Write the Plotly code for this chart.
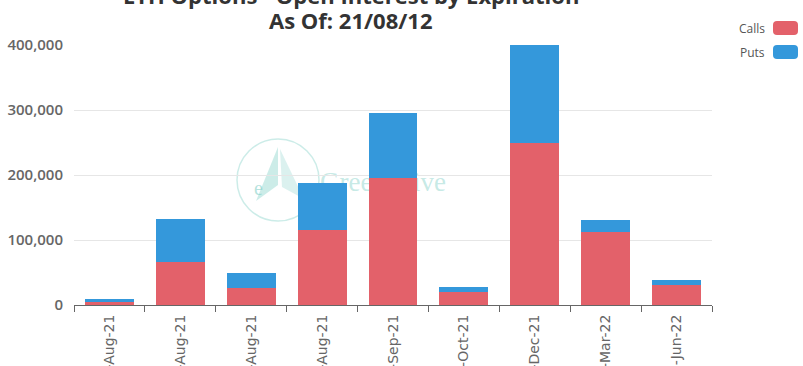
import base64
import plotly.graph_objects as go

expirations = ["12-Aug-21", "13-Aug-21", "20-Aug-21", "27-Aug-21", "24-Sep-21",
               "29-Oct-21", "31-Dec-21", "25-Mar-22", "24-Jun-22"]
calls = [5000, 66000, 26000, 115000, 195000, 20000, 249000, 112000, 31000]
puts = [4000, 67000, 23000, 73000, 100000, 8000, 151000, 19000, 7000]
y_ticks = [0, 100000, 200000, 300000, 400000]
y_tick_text = ["0", "100,000", "200,000", "300,000", "400,000"]

RED = "#e3616a"
BLUE = "#3498db"

W, H = 803, 366
L, R, T, B = 74, 91, 45, 61
PW, PH = W - L - R, H - T - B


def px(x):
    return (x - L) / PW


def py(y):
    return 1 - (y - T) / PH


fig = go.Figure()
fig.add_trace(go.Bar(x=expirations, y=calls, name="Calls", marker_color=RED,
                     marker_line_width=0))
fig.add_trace(go.Bar(x=expirations, y=puts, name="Puts", marker_color=BLUE,
                     marker_line_width=0))

# watermark as an svg image behind the bars
svg = """<svg xmlns='http://www.w3.org/2000/svg' width='240' height='90' viewBox='0 0 240 90'>
<circle cx='44' cy='45' r='41' fill='none' stroke='rgba(110,200,190,0.35)' stroke-width='1.5'/>
<polygon points='44,12 22,66 44,50' fill='rgba(110,200,190,0.35)'/>
<polygon points='46,14 70,64 48,52' fill='rgba(110,200,190,0.25)'/>
<text x='20' y='60' font-family='Liberation Serif' font-size='20' fill='rgba(110,200,190,0.5)'>e</text>
<text x='86' y='56' font-family='Liberation Serif' font-size='27' fill='rgba(110,200,190,0.4)'>GreeksLive</text>
</svg>"""
src = "data:image/svg+xml;base64," + base64.b64encode(svg.encode()).decode()
fig.add_layout_image(dict(source=src, xref="paper", yref="paper",
                          x=px(234), y=py(135),
                          sizex=240 / PW, sizey=90 / PH,
                          xanchor="left", yanchor="top", sizing="stretch",
                          layer="below", opacity=1))

# title lines
tfont = dict(family="Open Sans", size=22, color="#333", weight=700)
fig.add_annotation(text="ETH Options - Open Interest by Expiration", xref="paper", yref="paper",
                   x=px(351), y=py(-5), xanchor="center", yanchor="middle",
                   showarrow=False, font=tfont)
fig.add_annotation(text="As Of: 21/08/12", xref="paper", yref="paper",
                   x=px(351), y=py(20), xanchor="center", yanchor="middle",
                   showarrow=False, font=tfont)


def rounded_rect(x0, y0, x1, y1, r):
    pts = [
        f"M {px(x0 + r)} {py(y0)}",
        f"L {px(x1 - r)} {py(y0)}",
        f"Q {px(x1)} {py(y0)} {px(x1)} {py(y0 + r)}",
        f"L {px(x1)} {py(y1 - r)}",
        f"Q {px(x1)} {py(y1)} {px(x1 - r)} {py(y1)}",
        f"L {px(x0 + r)} {py(y1)}",
        f"Q {px(x0)} {py(y1)} {px(x0)} {py(y1 - r)}",
        f"L {px(x0)} {py(y0 + r)}",
        f"Q {px(x0)} {py(y0)} {px(x0 + r)} {py(y0)}",
        "Z",
    ]
    return " ".join(pts)


# custom legend (text left, swatch right)
for i, (lab, col) in enumerate([("Calls", RED), ("Puts", BLUE)]):
    yc = 28 + i * 24
    fig.add_annotation(text=lab, xref="paper", yref="paper", x=px(767),
                       y=py(yc), xanchor="right", yanchor="middle",
                       showarrow=False, font=dict(family="Open Sans", size=12, color="#555"))
    fig.add_shape(type="path", xref="paper", yref="paper",
                  path=rounded_rect(773, yc - 7, 798, yc + 7, 4),
                  fillcolor=col, line_width=0, layer="above")

fig.update_layout(
    barmode="stack",
    bargap=0.31,
    width=W, height=H,
    margin=dict(l=L, r=R, t=T, b=B, autoexpand=False),
    paper_bgcolor="white", plot_bgcolor="white",
    showlegend=False,
    font=dict(family="Open Sans", color="#666"),
)
fig.update_xaxes(
    type="category", tickangle=-90, tickson="boundaries", ticks="outside", ticklen=6,
    tickcolor="#666", showline=True, linecolor="#666", linewidth=1, automargin=False,
    ticklabelstandoff=3,
    tickfont=dict(family="DejaVu Sans", size=14, color="#666"), showgrid=False,
)
fig.update_yaxes(
    range=[0, 400000], tickvals=y_ticks, ticktext=y_tick_text, showline=False, automargin=False,
    gridcolor="#e6e6e6", zeroline=False, ticks="", ticklabelstandoff=10,
    tickfont=dict(family="Open Sans", size=15, color="#666", weight=600),
)

fig.write_html("out.html", config={"displayModeBar": False},
               post_script="document.body.style.margin='0';")
